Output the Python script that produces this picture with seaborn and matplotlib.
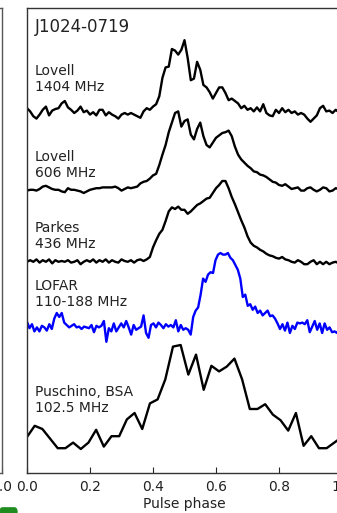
import numpy as np
import pandas as pd
import seaborn as sns
import matplotlib.pyplot as plt
from matplotlib.patches import FancyBboxPatch

# --- profile data (intensity, arbitrary units, baseline ~ 0) ---
lovell_1404 = [0.05, 0.01, -0.05, -0.08, -0.03, 0.03, 0.07, -0.04, 0.02, 0.04,
               0.05, 0.11, 0.14, 0.06, 0.03, -0.01, 0.02, 0.07, 0.00, 0.02,
               -0.03, 0.00, -0.04, 0.03, 0.03, -0.04, 0.00, -0.03, -0.05, -0.08,
               -0.03, -0.01, -0.03, -0.01, -0.03, -0.05, -0.07, 0.01, 0.05, 0.03,
               0.07, 0.10, 0.20, 0.43, 0.56, 0.57, 0.79, 0.77, 0.72, 0.78,
               0.90, 0.68, 0.40, 0.42, 0.63, 0.53, 0.34, 0.31, 0.25, 0.17,
               0.24, 0.31, 0.31, 0.24, 0.15, 0.17, 0.14, 0.11, 0.05, 0.08,
               0.03, 0.05, 0.01, 0.06, 0.01, 0.10, -0.01, -0.04, -0.05, 0.03,
               -0.01, 0.05, 0.00, 0.03, -0.01, 0.01, -0.03, -0.01, -0.03, -0.08,
               -0.12, -0.08, -0.04, 0.05, 0.08, 0.01, 0.02, -0.01, 0.03, 0.00,
               0.01]

lovell_606 = [-0.01, 0.00, 0.00, -0.01, 0.01, 0.04, 0.05, 0.03, 0.01, 0.00,
              0.00, -0.02, -0.03, 0.02, 0.00, 0.00, -0.01, -0.02, -0.04, -0.02,
              0.00, 0.01, 0.02, 0.02, 0.03, 0.03, 0.03, 0.03, 0.04, 0.02,
              -0.01, 0.01, 0.03, 0.02, 0.03, 0.04, 0.08, 0.10, 0.11, 0.14,
              0.18, 0.20, 0.31, 0.44, 0.56, 0.72, 0.84, 0.96, 0.98, 0.79,
              0.86, 0.88, 0.69, 0.63, 0.76, 0.84, 0.67, 0.56, 0.53, 0.59,
              0.65, 0.68, 0.71, 0.72, 0.74, 0.67, 0.54, 0.44, 0.38, 0.34,
              0.30, 0.27, 0.23, 0.22, 0.19, 0.18, 0.16, 0.13, 0.10, 0.09,
              0.06, 0.05, 0.07, 0.04, 0.01, 0.02, 0.03, -0.01, -0.01, 0.02,
              0.03, 0.00, -0.02, 0.00, 0.03, 0.02, -0.02, -0.01, 0.02, 0.01,
              0.00]

parkes_436 = [0.00, 0.02, 0.00, 0.03, -0.01, 0.02, 0.00, 0.03, -0.02, 0.02,
              0.00, 0.01, 0.00, 0.02, -0.01, 0.00, 0.02, -0.03, 0.00, 0.02,
              0.00, 0.03, -0.01, 0.02, 0.00, 0.03, -0.01, 0.02, 0.00, -0.01,
              0.03, 0.01, 0.00, 0.02, -0.01, 0.02, 0.03, 0.01, 0.03, 0.06,
              0.18, 0.27, 0.35, 0.40, 0.51, 0.63, 0.68, 0.66, 0.69, 0.65,
              0.65, 0.60, 0.63, 0.67, 0.71, 0.73, 0.76, 0.79, 0.80, 0.86,
              0.92, 0.96, 1.01, 1.01, 0.92, 0.81, 0.72, 0.62, 0.52, 0.43,
              0.32, 0.24, 0.20, 0.18, 0.15, 0.13, 0.10, 0.08, 0.07, 0.05,
              0.04, 0.06, 0.03, 0.02, 0.00, -0.01, 0.02, 0.00, -0.03, -0.03,
              0.00, 0.02, -0.03, 0.00, -0.03, 0.00, -0.03, -0.01, 0.00, -0.02,
              -0.01]

lofar = [0.04, -0.04, 0.01, -0.08, -0.03, -0.08, -0.01, -0.03, -0.07, 0.01,
         -0.05, 0.08, 0.15, 0.10, 0.15, 0.03, 0.00, -0.03, -0.01, 0.01,
         -0.03, -0.02, -0.05, -0.02, -0.03, -0.04, 0.00, -0.09, -0.01, -0.03,
         -0.01, 0.05, -0.21, -0.04, -0.08, 0.02, -0.08, -0.03, 0.02, -0.03,
         0.05, -0.03, -0.12, 0.00, -0.06, -0.04, -0.02, 0.12, -0.10, -0.16,
         0.00, 0.02, -0.03, 0.03, 0.00, -0.04, 0.01, -0.02, 0.00, -0.03,
         0.06, -0.08, 0.00, -0.06, -0.04, -0.06, -0.12, 0.10, 0.18, 0.22,
         0.38, 0.58, 0.54, 0.63, 0.66, 0.65, 0.81, 0.88, 0.90, 0.88,
         0.88, 0.90, 0.84, 0.81, 0.75, 0.69, 0.58, 0.35, 0.38, 0.24,
         0.26, 0.19, 0.23, 0.15, 0.18, 0.12, 0.15, 0.18, 0.11, 0.12,
         0.08, 0.02, -0.05, 0.01, -0.07, 0.03, -0.10, -0.01, -0.05, 0.03,
         0.02, 0.03, 0.01, 0.06, -0.09, -0.02, 0.05, -0.06, 0.02, -0.10,
         0.02, -0.06, -0.03, -0.09, -0.08, -0.10, -0.04, -0.02]

puschino = [0.10, 0.24, 0.20, 0.08, -0.04, -0.04, 0.03, -0.05, 0.03, 0.19,
            -0.02, 0.11, 0.11, 0.32, 0.40, 0.20, 0.52, 0.57, 0.82, 1.23,
            1.25, 0.88, 1.13, 0.69, 0.99, 0.92, 0.98, 1.08, 0.82, 0.45,
            0.45, 0.51, 0.38, 0.31, 0.18, 0.40, -0.01, 0.11, -0.04, -0.04,
            0.03, 0.10]

labels = ["Lovell\n1404 MHz", "Lovell\n606 MHz", "Parkes\n436 MHz",
          "LOFAR\n110-188 MHz", "Puschino, BSA\n102.5 MHz"]
profiles = [lovell_1404, lovell_606, parkes_436, lofar, puschino]
phases = [np.linspace(0, 1, len(lovell_1404)),
          np.linspace(0, 1, len(lovell_606)),
          np.linspace(0, 1, len(parkes_436)),
          np.linspace(0, 1, len(lofar)),
          np.arange(len(puschino)) / 41]
xticks = [0.0, 0.2, 0.4, 0.6, 0.8, 1.0]
xticklabels = ["0.0", "0.2", "0.4", "0.6", "0.8", "1.0"]

# layout: vertical offsets of each profile and label heights
offsets = [4.51, 3.54, 2.64, 1.85, 0.35]
label_y = [5.11, 4.04, 3.15, 2.43, 1.10]
colors = ["black", "black", "black", "#0000ff", "black"]

sns.set_style("ticks")
plt.rcParams["font.family"] = ["DejaVu Sans"]
text_col = "#222222"

fig = plt.figure(figsize=(3.37, 5.13), dpi=100)
ax = fig.add_axes([27 / 337, 40 / 513, 315 / 337, 465 / 513])

for lab, prof, ph, off, c in zip(labels, profiles, phases, offsets, colors):
    df = pd.DataFrame({"phase": ph, "flux": np.array(prof) + off})
    sns.lineplot(data=df, x="phase", y="flux", ax=ax, color=c, lw=1.7,
                 estimator=None, sort=False)

for lab, ly in zip(labels, label_y):
    ax.text(0.025, ly, lab, fontsize=10, va="top", ha="left", color=text_col)
ax.text(0.025, 5.69, "J1024-0719", fontsize=12, va="top", ha="left", color=text_col)

ax.set_xlim(0, 1)
ax.set_ylim(0, 465 / 80)
ax.set_xticks(xticks)
ax.set_xticklabels(xticklabels)
ax.set_yticks([])
ax.set_xlabel("Pulse phase", fontsize=10, color=text_col, labelpad=2)
ax.set_ylabel("")
ax.tick_params(axis="x", direction="in", length=4, labelsize=10,
               labelcolor=text_col, pad=5)
for s in ax.spines.values():
    s.set_color("#333333")
    s.set_linewidth(1)

# edge of the neighbouring panel on the left (only its last tick shows)
ax_left = fig.add_axes([-0.5, 40 / 513, 0.5 + 1.5 / 337, 465 / 513])
ax_left.set_xlim(0, 1)
ax_left.set_ylim(0, 1)
ax_left.set_xticks(xticks[-1:])
ax_left.set_xticklabels(xticklabels[-1:])
ax_left.set_yticks([])
ax_left.tick_params(axis="x", direction="in", length=4, labelsize=10,
                    labelcolor=text_col, pad=5)
for s in ax_left.spines.values():
    s.set_color("#555555")
    s.set_linewidth(1)

# small green marker at the bottom left
fig.patches.append(FancyBboxPatch((0, -0.01), 17 / 337, 0.02,
                                  boxstyle="round,pad=0,rounding_size=0.008",
                                  transform=fig.transFigure, color="#1e8c1e"))

fig.savefig("out.png", dpi=100)
